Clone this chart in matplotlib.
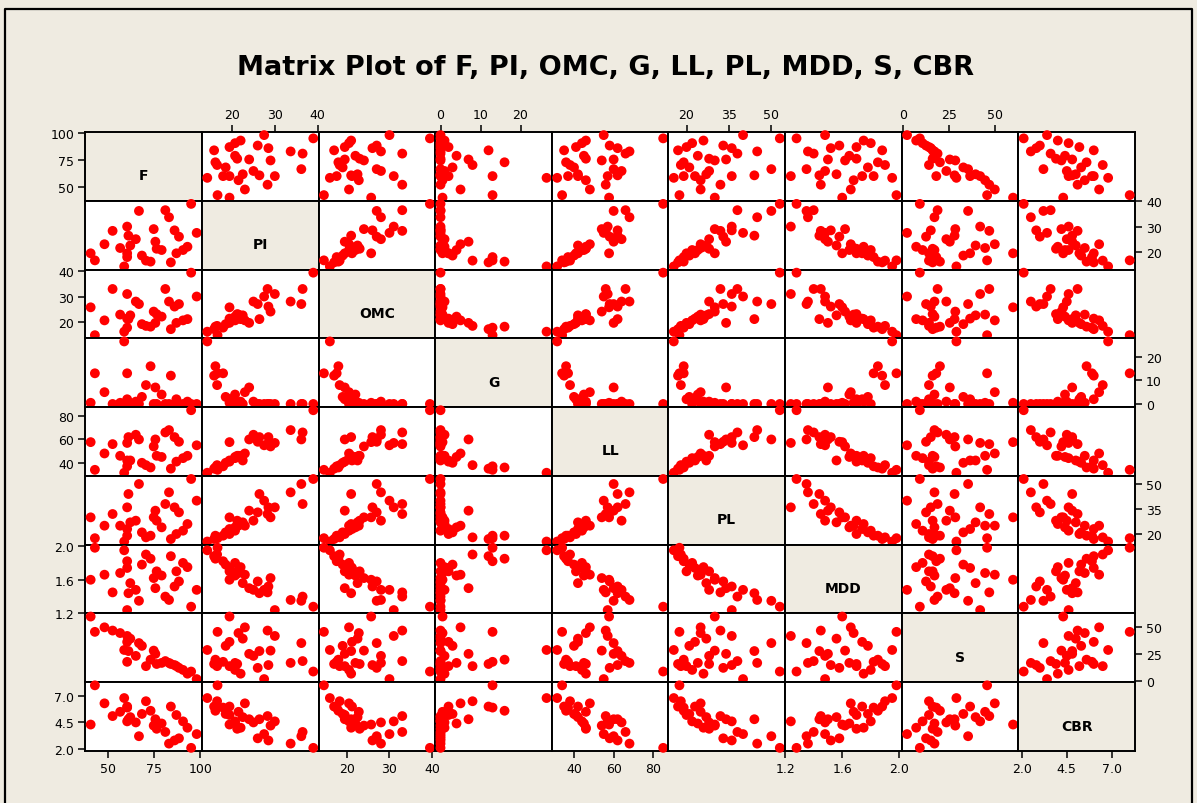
import numpy as np
import matplotlib.pyplot as plt

# soil test results, one entry per sample
F = [98, 95, 93, 90.6, 88.4, 87, 86, 84, 83, 81, 79, 76.3, 75.6, 74.7, 73,
     70.5, 68.3, 66.7, 65, 62, 61, 60.3, 60.3, 60.3, 58.7, 56.5, 52.4, 48, 42.8, 40.5]
PI = [27.5, 39, 22, 20.7, 26, 19.4, 28.5, 15.8, 33.7, 36.5, 20.7, 21.2, 24, 29, 16.1,
      16.5, 18.5, 36.2, 25, 22.5, 26.4, 17.9, 19.4, 30, 14.2, 21.5, 28.3, 23, 16.6, 19.4]
OMC = [30, 39.5, 21, 20.5, 27, 19.5, 26, 17, 28, 33, 22, 23, 19.5, 24, 18,
       18.3, 19, 27, 28, 22.5, 21, 17.6, 21.2, 31, 16, 22.8, 33, 20.5, 14.6, 25.7]
G = [0, 0, 1, 0, 0, 2, 0, 12, 0, 0, 4, 0, 7, 0, 16,
     8, 3, 0, 1, 0, 0, 13, 2, 0, 26.5, 0.5, 0, 5, 13, 0.5]
LL = [55, 85, 46, 44, 58, 41, 62, 35, 68, 66, 45, 46, 60, 54, 36,
      38, 40, 60, 64, 42, 62, 37, 42, 57, 31.5, 46, 56, 48, 34, 57.7]
PL = [40, 53, 26, 22, 33, 20, 36, 17, 45, 38, 24, 28, 34, 30, 19,
      18, 21, 50, 28, 27, 44, 19, 23, 36, 15.5, 25, 32, 25, 17.5, 30]
MDD = [1.48, 1.28, 1.75, 1.80, 1.58, 1.70, 1.52, 1.88, 1.36, 1.40, 1.65, 1.70, 1.50, 1.62, 1.85,
       1.90, 1.78, 1.35, 1.48, 1.56, 1.44, 1.82, 1.74, 1.24, 1.95, 1.68, 1.45, 1.66, 1.98, 1.60]
S = [2, 9, 7, 10.5, 12.4, 14, 15, 16, 17, 18.7, 17, 16, 25.4, 28.4, 20,
     14, 32.8, 35.4, 23.5, 39.5, 28, 18, 36.5, 42, 29, 44.7, 47, 50, 45.8, 60]
CBR = [3.4, 2.1, 4.0, 4.6, 3.0, 5.2, 2.8, 6.0, 2.5, 3.6, 4.4, 3.9, 4.8, 4.2, 5.6,
       6.5, 5.3, 3.2, 4.5, 5.0, 4.8, 5.9, 6.0, 4.6, 6.8, 5.5, 5.1, 6.3, 8.0, 4.3]

names = ['F', 'PI', 'OMC', 'G', 'LL', 'PL', 'MDD', 'S', 'CBR']
columns = [F, PI, OMC, G, LL, PL, MDD, S, CBR]
tick_values = [[50, 75, 100], [20, 30, 40], [20, 30, 40], [0, 10, 20], [40, 60, 80],
               [20, 35, 50], [1.2, 1.6, 2.0], [0, 25, 50], [2.0, 4.5, 7.0]]
tick_labels = [['50', '75', '100'], ['20', '30', '40'], ['20', '30', '40'], ['0', '10', '20'],
               ['40', '60', '80'], ['20', '35', '50'], ['1.2', '1.6', '2.0'], ['0', '25', '50'],
               ['2.0', '4.5', '7.0']]

bg = '#EFEBE1'
n = len(names)

fig, axes = plt.subplots(n, n, figsize=(11.97, 8.04), dpi=100)
fig.patch.set_facecolor(bg)
fig.subplots_adjust(left=0.0713, right=0.9482, top=0.8346, bottom=0.0647,
                    wspace=0, hspace=0)

# data range plus 5% padding on each side
limits = []
for col in columns:
    lo, hi = min(col), max(col)
    pad = 0.05 * (hi - lo)
    limits.append((lo - pad, hi + pad))

for i in range(n):
    for j in range(n):
        ax = axes[i, j]
        if i == j:
            ax.set_facecolor(bg)
            ax.text(0.5, 0.37, names[i], transform=ax.transAxes, ha='center', va='center',
                    fontsize=10, fontweight='bold')
        else:
            ax.set_facecolor('white')
            ax.scatter(columns[j], columns[i], s=50, color='#FF0000', edgecolors='none',
                       zorder=3, clip_on=False)
        ax.set_xlim(limits[j])
        ax.set_ylim(limits[i])
        ax.set_xticks(tick_values[j])
        ax.set_xticklabels(tick_labels[j])
        ax.set_yticks(tick_values[i])
        ax.set_yticklabels(tick_labels[i])
        for sp in ax.spines.values():
            sp.set_linewidth(1.4)
            sp.set_color('black')

        show_top = (i == 0 and j % 2 == 1)
        show_bottom = (i == n - 1 and j % 2 == 0)
        show_left = (j == 0 and i % 2 == 0)
        show_right = (j == n - 1 and i % 2 == 1)
        ax.tick_params(direction='out', length=5, width=1.1, labelsize=9, pad=3,
                       top=show_top, labeltop=show_top,
                       bottom=show_bottom, labelbottom=show_bottom,
                       left=show_left, labelleft=show_left,
                       right=show_right, labelright=show_right)

fig.suptitle('Matrix Plot of F, PI, OMC, G, LL, PL, MDD, S, CBR', x=0.5055, y=0.915,
             va='center', fontsize=19.5, fontweight='bold')

# frame round the whole graph
frame = [(5, 804), (5, 10), (1192, 10), (1192, 804)]
fx = [p[0] / 1197 for p in frame]
fy = [1 - p[1] / 804 for p in frame]
fig.add_artist(plt.Line2D(fx, fy, color='black', linewidth=1.6, transform=fig.transFigure))

fig.savefig('out.png', dpi=100, facecolor=bg)
